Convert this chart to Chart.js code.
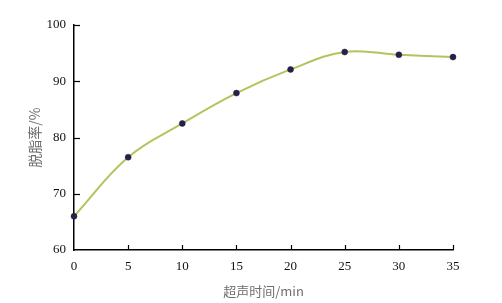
<!DOCTYPE html>
<html>
<head>
<meta charset="utf-8">
<script src="https://cdn.jsdelivr.net/npm/chart.js@4"></script>
<style>
html,body{margin:0;padding:0;background:#fff;}
#wrap{width:502px;height:303px;position:relative;}
</style>
</head>
<body>
<div id="wrap"><canvas id="c" width="502" height="303"></canvas></div>
<script>
const times = [0, 5, 10, 15, 20, 25, 30, 35];
const degreasingRate = [66.0, 76.5, 82.5, 87.9, 92.1, 95.2, 94.7, 94.3];
const xTicks = [0, 5, 10, 15, 20, 25, 30, 35];
const yTicks = [60, 70, 80, 90, 100];
const xTitle = '超声时间/min';
const yTitle = '脱脂率/%';

const innerTicks = {
  id: 'innerTicks',
  afterDatasetsDraw(chart) {
    const ctx = chart.ctx;
    const xs = chart.scales.x, ys = chart.scales.y;
    ctx.save();
    ctx.strokeStyle = '#000';
    ctx.lineWidth = 1.2;
    xs.ticks.forEach(t => {
      if (t.value === xs.min) return;
      const px = Math.round(xs.getPixelForValue(t.value)) + 0.5;
      ctx.beginPath();
      ctx.moveTo(px, ys.bottom);
      ctx.lineTo(px, ys.bottom - 5);
      ctx.stroke();
    });
    ys.ticks.forEach(t => {
      if (t.value === ys.min) return;
      const py = Math.round(ys.getPixelForValue(t.value)) + 0.5;
      ctx.beginPath();
      ctx.moveTo(xs.left, py);
      ctx.lineTo(xs.left + 6, py);
      ctx.stroke();
    });
    ctx.restore();
  }
};

new Chart(document.getElementById('c'), {
  type: 'line',
  data: {
    datasets: [{
      data: times.map((t, i) => ({x: t, y: degreasingRate[i]})),
      borderColor: '#b2c45c',
      borderWidth: 2,
      tension: 0.4,
      pointStyle: 'circle',
      pointRadius: 3,
      pointBackgroundColor: '#23234a',
      pointBorderColor: '#23234a',
      pointBorderWidth: 0.5,
      clip: false
    }]
  },
  options: {
    responsive: false,
    animation: false,
    devicePixelRatio: 1,
    plugins: { legend: {display: false}, tooltip: {enabled: false} },
    layout: { padding: {left: 0, right: 49, top: 25, bottom: 0} },
    scales: {
      x: {
        type: 'linear',
        min: 0, max: 35,
        afterBuildTicks(s) { s.ticks = xTicks.map(v => ({value: v})); },
        afterFit(s) { s.height = 53; },
        grid: { display: true, drawOnChartArea: false, drawTicks: false },
        border: { display: true, color: '#000', width: 1.5 },
        ticks: {
          padding: 9,
          color: '#111',
          font: { family: '"Liberation Serif", "Times New Roman", serif', size: 13 },
          maxRotation: 0
        },
        title: {
          display: true,
          text: xTitle,
          color: '#6e6e6e',
          font: { family: '"Noto Sans CJK SC", "Liberation Serif", serif', size: 13 },
          padding: {top: 0, bottom: 4}
        }
      },
      y: {
        type: 'linear',
        min: 60, max: 100,
        afterBuildTicks(s) { s.ticks = yTicks.map(v => ({value: v})); },
        afterFit(s) { s.width = 74; },
        grid: { display: true, drawOnChartArea: false, drawTicks: false },
        border: { display: true, color: '#000', width: 1.5 },
        ticks: {
          padding: 8,
          color: '#111',
          font: { family: '"Liberation Serif", "Times New Roman", serif', size: 13 }
        },
        title: {
          display: true,
          text: yTitle,
          color: '#6e6e6e',
          font: { family: '"Noto Sans CJK SC", "Liberation Serif", serif', size: 14 },
          padding: {top: 26, bottom: 0}
        }
      }
    }
  },
  plugins: [innerTicks]
});
</script>
</body>
</html>
